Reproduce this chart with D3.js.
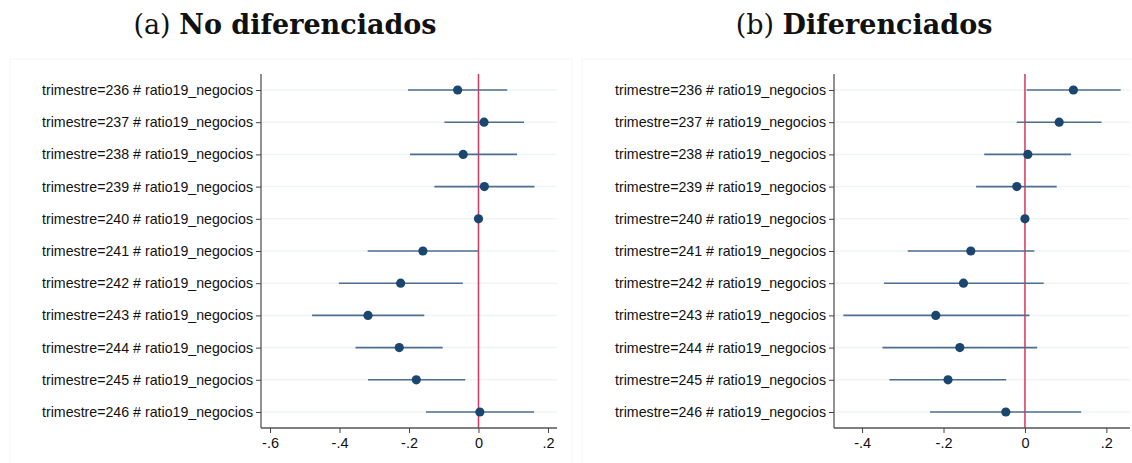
<!DOCTYPE html>
<html>
<head>
<meta charset="utf-8">
<script src="https://cdn.jsdelivr.net/npm/d3@7"></script>
<style>
  body { margin: 0; background: #fff; }
  svg { display: block; }
</style>
</head>
<body>
<script>
// coefficient labels, top to bottom
var quarters = [236, 237, 238, 239, 240, 241, 242, 243, 244, 245, 246];

// (a) no diferenciados
var estA = [-0.060, 0.016, -0.044, 0.017, 0, -0.160, -0.224, -0.318, -0.228, -0.179, 0.004];
var loA  = [-0.203, -0.098, -0.197, -0.127, 0, -0.319, -0.402, -0.479, -0.354, -0.318, -0.151];
var hiA  = [0.083, 0.131, 0.111, 0.161, 0, 0, -0.045, -0.156, -0.103, -0.038, 0.160];

// (b) diferenciados
var estB = [0.119, 0.084, 0.007, -0.020, 0, -0.133, -0.151, -0.219, -0.160, -0.189, -0.047];
var loB  = [0.004, -0.020, -0.100, -0.120, 0, -0.288, -0.346, -0.446, -0.350, -0.333, -0.233];
var hiB  = [0.235, 0.188, 0.113, 0.078, 0, 0.023, 0.046, 0.011, 0.030, -0.046, 0.138];

var ticksA = [-0.6, -0.4, -0.2, 0, 0.2];
var ticksB = [-0.4, -0.2, 0, 0.2];

var svg = d3.select("body").append("svg")
  .attr("width", 1132)
  .attr("height", 463);

function fmt(v) {
  if (v === 0) return "0";
  return (v < 0 ? "-" : "") + String(Math.abs(v).toFixed(1)).replace(/^0/, "");
}

function drawPanel(opt) {
  var g = svg.append("g");

  // faint outer frame
  g.append("rect")
    .attr("x", opt.frame[0]).attr("y", 59)
    .attr("width", opt.frame[1] - opt.frame[0]).attr("height", 420)
    .attr("fill", "none").attr("stroke", "#f4f5f5");

  var title = g.append("text")
    .attr("x", opt.titleX).attr("y", 34)
    .attr("text-anchor", "middle")
    .style("font-family", "'DejaVu Serif', serif")
    .style("font-size", "27px")
    .attr("fill", "#111");
  title.append("tspan").text(opt.prefix + " ");
  title.append("tspan").style("font-weight", "bold").text(opt.title);

  var x = d3.scaleLinear().domain(opt.domain).range([opt.left, opt.right]);
  var y = d3.scalePoint().domain(quarters).range([90, 412]);

  var rows = quarters.map(function(q, i) {
    return { q: q, est: opt.est[i], lo: opt.lo[i], hi: opt.hi[i] };
  });

  // grid lines
  g.selectAll(".grid").data(quarters).enter().append("line")
    .attr("x1", opt.left).attr("x2", opt.right)
    .attr("y1", function(d) { return y(d); })
    .attr("y2", function(d) { return y(d); })
    .attr("stroke", "#f0f4f5").attr("stroke-width", 1.5);

  // reference line at zero
  g.append("line")
    .attr("x1", x(0)).attr("x2", x(0))
    .attr("y1", 74).attr("y2", 428)
    .attr("stroke", "#d6365f").attr("stroke-width", 1.5);

  // y axis
  var yAxis = g.append("g")
    .attr("transform", "translate(" + opt.left + ",0)")
    .call(d3.axisLeft(y).tickSize(5).tickPadding(3)
      .tickFormat(function(d) { return "trimestre=" + d + " # ratio19_negocios"; }));
  yAxis.select(".domain").attr("d", "M0,74V428").attr("stroke", "#555").attr("stroke-width", 1.3);
  yAxis.selectAll(".tick line").attr("stroke", "#444");
  yAxis.selectAll("text")
    .style("font-family", "'Liberation Sans', Arial, sans-serif")
    .style("font-size", "14.2px").attr("fill", "#111");

  // x axis
  var xAxis = g.append("g")
    .attr("transform", "translate(0,428)")
    .call(d3.axisBottom(x).tickValues(opt.ticks).tickSize(5).tickPadding(5).tickFormat(fmt));
  xAxis.select(".domain").attr("d", "M" + opt.left + ",0H" + opt.right).attr("stroke", "#555").attr("stroke-width", 1.3);
  xAxis.selectAll(".tick line").attr("stroke", "#444");
  xAxis.selectAll("text")
    .style("font-family", "'Liberation Sans', Arial, sans-serif")
    .style("font-size", "14.5px").attr("fill", "#111");

  // confidence intervals
  g.selectAll(".ci").data(rows.filter(function(d) { return d.lo !== d.hi; })).enter().append("line")
    .attr("x1", function(d) { return x(d.lo); })
    .attr("x2", function(d) { return x(d.hi); })
    .attr("y1", function(d) { return y(d.q); })
    .attr("y2", function(d) { return y(d.q); })
    .attr("stroke", "#4d6e8f").attr("stroke-width", 1.6);

  // point estimates
  g.selectAll(".pt").data(rows).enter().append("circle")
    .attr("cx", function(d) { return x(d.est); })
    .attr("cy", function(d) { return y(d.q); })
    .attr("r", 4.6)
    .attr("fill", "#1a4670");
}

drawPanel({
  prefix: "(a)", title: "No diferenciados", titleX: 285,
  est: estA, lo: loA, hi: hiA, ticks: ticksA,
  domain: [-0.626, 0.226], left: 261, right: 557, frame: [10, 572]
});

drawPanel({
  prefix: "(b)", title: "Diferenciados", titleX: 864,
  est: estB, lo: loB, hi: hiB, ticks: ticksB,
  domain: [-0.469, 0.258], left: 834, right: 1130, frame: [582, 1140]
});
</script>
</body>
</html>
